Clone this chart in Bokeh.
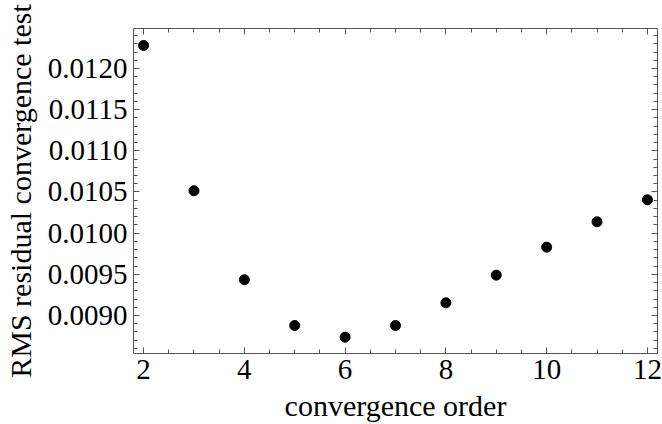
from bokeh.plotting import figure
from bokeh.models import LinearAxis, Range1d, SingleIntervalTicker, NumeralTickFormatter, CustomJSTickFormatter
from bokeh.embed import file_html
from bokeh.resources import INLINE

order = [2, 3, 4, 5, 6, 7, 8, 9, 10, 11, 12]
rms = [0.01228, 0.010515, 0.009434, 0.008878, 0.008736, 0.008878,
       0.009154, 0.009490, 0.009830, 0.010138, 0.010405]
x_title = "convergence order"
y_title = "RMS residual convergence test"

FONT = "Liberation Serif"
FS_TICK = "29px"
FS_LAB = "30px"
AX = "#555555"

p = figure(width=662, height=424, output_backend="svg", toolbar_location=None,
           x_range=Range1d(1.80, 12.20), y_range=Range1d(0.008538, 0.012486),
           min_border_left=133, min_border_right=5, min_border_top=28, min_border_bottom=71,
           x_axis_label=x_title, y_axis_label=y_title)
p.outline_line_color = None
p.grid.visible = False
p.background_fill_color = "white"
p.border_fill_color = "white"

p.scatter(order, rms, size=10, color="black")

def style(ax):
    ax.axis_line_color = AX
    ax.major_tick_line_color = AX
    ax.minor_tick_line_color = AX
    ax.major_tick_in = 6
    ax.major_tick_out = 0
    ax.minor_tick_in = 4
    ax.minor_tick_out = 0
    ax.major_label_text_font = FONT
    ax.major_label_text_font_size = FS_TICK
    ax.major_label_text_color = "black"
    ax.axis_label_text_font = FONT
    ax.axis_label_text_font_size = FS_LAB
    ax.axis_label_text_font_style = "normal"
    ax.axis_label_text_color = "black"

p.xaxis.ticker = SingleIntervalTicker(interval=2, num_minor_ticks=4)
p.yaxis.ticker = SingleIntervalTicker(interval=0.0005, num_minor_ticks=5)
p.yaxis.formatter = NumeralTickFormatter(format="0.0000")
style(p.xaxis[0])
style(p.yaxis[0])
p.xaxis.major_label_standoff = 6
p.yaxis.major_label_standoff = 6
p.xaxis.axis_label_standoff = 7
p.xaxis.axis_label_text_line_height = 0.6
p.yaxis.axis_label_standoff = 8

blank = CustomJSTickFormatter(code="return ''")
top = LinearAxis(ticker=SingleIntervalTicker(interval=2, num_minor_ticks=4), formatter=blank)
style(top)
top.major_label_standoff = 0
right = LinearAxis(ticker=SingleIntervalTicker(interval=0.0005, num_minor_ticks=5), formatter=blank)
style(right)
right.major_label_standoff = 0
p.add_layout(top, "above")
p.add_layout(right, "right")

open("out.html", "w").write(file_html(p, INLINE))
